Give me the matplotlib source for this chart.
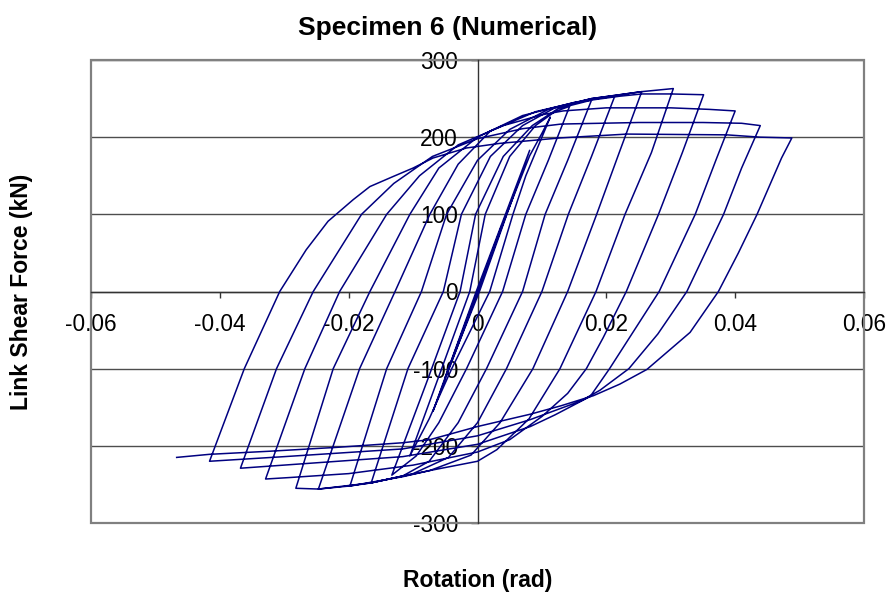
import matplotlib
matplotlib.use("Agg")
import matplotlib.pyplot as plt
from matplotlib.patches import Rectangle

# ---- hysteresis path, cycle by cycle (rotation in rad, shear in kN) ----
# each cycle: reload to the positive peak, then unload to the negative peak
cycle01_rot = [0.0, 0.0038, -0.0034, 0.0057, -0.0051, 0.0003, 0.0081, -0.0002, -0.0069]
cycle01_kN = [0, 86, -76, 127, -113, 0, 183, 0, -155]

cycle02_rot = [-0.0069, -0.0034, 0.0001, 0.0045, 0.0081, 0.0100, 0.0113,
               0.0075, 0.0055, 0.0019, -0.0040, -0.0075, -0.0105]
cycle02_kN = [-155, -78, 0, 100, 176, 205, 226,
              150, 100, 0, -100, -165, -213]

cycle03_rot = [-0.0105, -0.0060, -0.0012, 0.0012, 0.0050, 0.0090, 0.0120, 0.0143,
               0.0110, 0.0075, 0.0039, -0.0017, -0.0060, -0.0095, -0.0133]
cycle03_kN = [-213, -110, 0, 100, 175, 215, 233, 240,
              170, 100, 0, -100, -170, -213, -238]

cycle04_rot = [-0.0133, -0.0080, -0.0027, -0.0003, 0.0040, 0.0085, 0.0125, 0.0177,
               0.0140, 0.0105, 0.0070, 0.0014, -0.0030, -0.0075, -0.0116, -0.0165]
cycle04_kN = [-238, -120, 0, 100, 175, 215, 237, 248,
              170, 100, 0, -100, -170, -220, -239, -248]

cycle05_rot = [-0.0165, -0.0108, -0.0053, -0.0025, 0.0020, 0.0070, 0.0120, 0.0177, 0.0213,
               0.0177, 0.0141, 0.0100, 0.0045, 0.0000, -0.0045, -0.0100, -0.0165, -0.0198]
cycle05_kN = [-248, -100, 0, 100, 175, 215, 238, 249, 253,
              175, 100, 0, -100, -170, -215, -236, -248, -252]

cycle06_rot = [-0.0198, -0.0141, -0.0087, -0.0048, 0.0000, 0.0050, 0.0110, 0.0177, 0.0213, 0.0255,
               0.0220, 0.0185, 0.0140, 0.0086, 0.0035, -0.0010, -0.0074, -0.0116, -0.0198, -0.0247]
cycle06_kN = [-252, -100, 0, 100, 170, 210, 236, 250, 254, 259,
              180, 100, 0, -100, -170, -212, -232, -240, -252, -256]

cycle07_rot = [-0.0247, -0.0183, -0.0128, -0.0074, -0.0030, 0.0020, 0.0090, 0.0177, 0.0255, 0.0304,
               0.0270, 0.0229, 0.0184, 0.0128, 0.0080, 0.0030, 0.0000, -0.0074, -0.0165, -0.0247, -0.0282]
cycle07_kN = [-256, -100, 0, 100, 165, 208, 233, 250, 259, 263,
              180, 100, 0, -100, -165, -205, -220, -232, -248, -256, -255]

cycle08_rot = [-0.0282, -0.0224, -0.0167, -0.0105, -0.0060, 0.0000, 0.0070, 0.0150, 0.0220, 0.0255, 0.0300, 0.0351,
               0.0318, 0.0281, 0.0231, 0.0195, 0.0169, 0.0140, 0.0100, 0.0050, 0.0000, -0.0100, -0.0200, -0.0290, -0.0329]
cycle08_kN = [-255, -100, 0, 100, 160, 200, 228, 245, 253, 256, 256, 255,
              180, 100, 0, -60, -100, -132, -162, -192, -208, -225, -236, -241, -243]

cycle09_rot = [-0.0329, -0.0268, -0.0214, -0.0141, -0.0090, -0.0030, 0.0040, 0.0100, 0.0133, 0.0200, 0.0300, 0.0360, 0.0400,
               0.0370, 0.0338, 0.0282, 0.0205, 0.0175, 0.0120, 0.0082, 0.0000, -0.0116, -0.0250, -0.0368]
cycle09_kN = [-243, -100, 0, 100, 150, 190, 215, 229, 234, 238, 238, 236, 234,
              170, 100, 0, -100, -136, -160, -175, -198, -214, -222, -229]

cycle10_rot = [-0.0368, -0.0312, -0.0255, -0.0180, -0.0130, -0.0070, 0.0000, 0.0070, 0.0130, 0.0250, 0.0350, 0.0410, 0.0439,
               0.0410, 0.0382, 0.0325, 0.0280, 0.0235, 0.0190, 0.0160, 0.0082, 0.0000, -0.0116, -0.0300, -0.0416]
cycle10_kN = [-229, -100, 0, 100, 140, 175, 198, 211, 217, 219, 219, 218, 215,
              160, 100, 0, -55, -100, -128, -142, -166, -187, -204, -214, -220]

cycle11_rot = [-0.0416, -0.0362, -0.0307, -0.0266, -0.0232, -0.0193, -0.0167, -0.0131, -0.0100, -0.0069,
               -0.0017, 0.0035, 0.0128, 0.0190, 0.0232, 0.0387, 0.0439, 0.0488,
               0.0472, 0.0434, 0.0405, 0.0374, 0.0330, 0.0263, 0.0221, 0.0180, 0.0130, 0.0082, 0.0000,
               -0.0074, -0.0116, -0.0219, -0.0323, -0.0416, -0.0467]
cycle11_kN = [-220, -100, 0, 54, 91, 119, 136, 149, 160, 173,
              186, 192, 199, 202, 204, 203, 200, 199,
              173, 100, 50, 0, -53, -101, -120, -135, -148, -159, -175,
              -192, -196, -202, -207, -211, -215]

x_ticks = [-0.06, -0.04, -0.02, 0.0, 0.02, 0.04, 0.06]
x_tick_labels = ["-0.06", "-0.04", "-0.02", "0", "0.02", "0.04", "0.06"]
y_ticks = [-300, -200, -100, 0, 100, 200, 300]
y_tick_labels = ["-300", "-200", "-100", "0", "100", "200", "300"]

cycles = [
    (cycle01_rot, cycle01_kN), (cycle02_rot, cycle02_kN), (cycle03_rot, cycle03_kN),
    (cycle04_rot, cycle04_kN), (cycle05_rot, cycle05_kN), (cycle06_rot, cycle06_kN),
    (cycle07_rot, cycle07_kN), (cycle08_rot, cycle08_kN), (cycle09_rot, cycle09_kN),
    (cycle10_rot, cycle10_kN), (cycle11_rot, cycle11_kN),
]
rotation, shear = [], []
for r, v in cycles:
    start = 1 if rotation else 0  # consecutive cycles share their end/start point
    rotation.extend(r[start:])
    shear.extend(v[start:])

# ---- figure ----
plt.rcParams["font.family"] = ["Liberation Sans", "DejaVu Sans"]
fig = plt.figure(figsize=(8.94, 6.0), dpi=100)
ax = fig.add_axes([91 / 894, 77 / 600, 773 / 894, 463 / 600])

ax.plot(rotation, shear, color="#000080", lw=1.1, zorder=3, solid_joinstyle="round")

ax.set_xlim(-0.06, 0.06)
ax.set_ylim(-300, 300)
ax.set_xticks(x_ticks)
ax.set_xticklabels(x_tick_labels)
ax.set_yticks(y_ticks)
ax.set_yticklabels(y_tick_labels)

# axes cross at the origin
ax.spines["left"].set_position(("data", 0))
ax.spines["bottom"].set_position(("data", 0))
for s in ("left", "bottom"):
    ax.spines[s].set_color("#333333")
    ax.spines[s].set_linewidth(1.0)
    ax.spines[s].set_zorder(2.6)
for s in ("top", "right"):
    ax.spines[s].set_visible(False)
ax.add_patch(Rectangle((0, 0), 1, 1, transform=ax.transAxes, fill=False,
                       ec="#808080", lw=1.6, zorder=2.5, clip_on=False))

ax.yaxis.grid(True, color="#4d4d4d", lw=1.0)
ax.set_axisbelow(True)

ax.tick_params(axis="x", direction="out", length=4.5, width=1, color="#333333",
               labelsize=16.3, pad=11)
ax.tick_params(axis="y", direction="out", length=5, width=1, color="#333333",
               labelsize=16.3, pad=9)

fig.text(448 / 894, 1 - 28 / 600, "Specimen 6 (Numerical)",
         ha="center", va="center", fontsize=19, fontweight="bold")
fig.text(478 / 894, 1 - 580 / 600, "Rotation (rad)",
         ha="center", va="center", fontsize=16.5, fontweight="bold")
fig.text(22 / 894, 1 - 292 / 600, "Link Shear Force (kN)",
         ha="center", va="center", rotation=90, fontsize=16.5, fontweight="bold")

fig.savefig("out.png", dpi=100)
